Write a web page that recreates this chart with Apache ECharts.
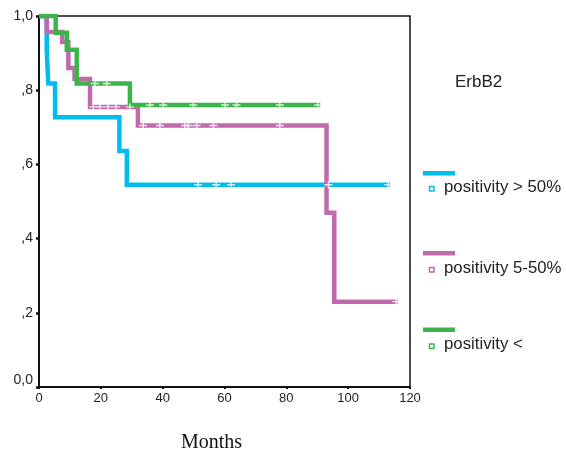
<!DOCTYPE html>
<html>
<head>
<meta charset="utf-8">
<script src="https://cdn.jsdelivr.net/npm/echarts@6/dist/echarts.min.js"></script>
<style>
html,body{margin:0;padding:0;background:#fff;}
#chart{width:566px;height:455px;}
</style>
</head>
<body>
<div id="chart"></div>
<script>
// ---- data ----
const legendTitle = 'ErbB2';
const xAxisTitle = 'Months';
const monthTicks = [0, 20, 40, 60, 80, 100, 120];
const survTicks = [0, 0.2, 0.4, 0.6, 0.8, 1.0];
const survTickLabels = ['0,0', ',2', ',4', ',6', ',8', '1,0'];
const groupNames = ['positivity > 50%', 'positivity 5-50%', 'positivity <'];
const groupColors = ['#00BDF0', '#C06AAC', '#3BB54A'];

// step survival curves (time at which survival becomes value)
const highTimes = [0, 2.5, 3, 5.2, 26, 28.4, 113.5];
const highSurv  = [1, 0.909, 0.818, 0.727, 0.636, 0.545, 0.545];
const midTimes  = [0, 2.5, 7.5, 9.5, 11.5, 16.5, 32, 93, 95.5, 116];
const midSurv   = [1, 0.957, 0.93, 0.86, 0.83, 0.755, 0.705, 0.47, 0.23, 0.23];
const lowTimes  = [0, 5.4, 9, 12.2, 29.4, 91];
const lowSurv   = [1, 0.955, 0.909, 0.818, 0.76, 0.76];

// censored observations
const highCensTimes = [51.5, 57.3, 62.1, 93.6, 113];
const highCensSurv  = [0.545, 0.545, 0.545, 0.545, 0.545];
const midCensTimes  = [17.6, 19.7, 22.3, 24.9, 29.4, 33.7, 39.1, 47.2, 48.3, 51, 56.4, 77.9, 115.5];
const midCensSurv   = [0.755, 0.755, 0.755, 0.755, 0.755, 0.705, 0.705, 0.705, 0.705, 0.705, 0.705, 0.705, 0.23];
const lowCensTimes  = [18.1, 21.9, 35.9, 40.2, 49.9, 60.2, 63.9, 77.9, 90.3];
const lowCensSurv   = [0.818, 0.818, 0.76, 0.76, 0.76, 0.76, 0.76, 0.76, 0.76];

// ---- build ----
const zip = (a, b) => a.map((v, i) => [v, b[i]]);
const curves = [zip(highTimes, highSurv), zip(midTimes, midSurv), zip(lowTimes, lowSurv)];
const cens = [zip(highCensTimes, highCensSurv), zip(midCensTimes, midCensSurv), zip(lowCensTimes, lowCensSurv)];
const plusSymbol = 'path://M0,2.8H8V4.2H0Z M3.3,0H4.7V7H3.3Z';

const series = [];
curves.forEach((d, i) => {
  series.push({
    name: groupNames[i], type: 'line', step: 'end', data: d,
    showSymbol: false, symbol: 'none', z: 2 + i,
    lineStyle: { color: groupColors[i], width: 4.5, cap: 'butt', join: 'miter' },
    silent: true, animation: false
  });
});
cens.forEach((d, i) => {
  series.push({
    name: groupNames[i] + ' censored', type: 'scatter', data: d,
    symbol: plusSymbol, symbolSize: [8, 7], z: 10,
    itemStyle: { color: '#ffffff' }, silent: true, animation: false
  });
});

const lblFmt = v => {
  const idx = survTicks.findIndex(t => Math.abs(t - v) < 1e-6);
  const s = idx >= 0 ? survTickLabels[idx] : '';
  return idx === 0 ? '{z|' + s + '}' : s;
};

const legendTops = [173, 253, 329.5];
const legendSq = [189, 270, 346.5];
const graphics = [{
  type: 'text', left: 455, top: 74,
  style: { text: legendTitle, font: '17px "Liberation Sans", Arial, sans-serif', fill: '#222' }
}, {
  type: 'text', left: 181, top: 433,
  style: { text: xAxisTitle, font: '20px "Liberation Serif", "Times New Roman", serif', fill: '#111' }
}];
groupNames.forEach((n, i) => {
  graphics.push({ type: 'rect', shape: { x: 423, y: legendTops[i] - 2, width: 32, height: 4.5 }, style: { fill: groupColors[i] } });
  graphics.push({ type: 'rect', shape: { x: 429.5, y: legendSq[i] - 2.5, width: 4.5, height: 4.5 }, style: { fill: '#fff', stroke: groupColors[i], lineWidth: 1.5 } });
  graphics.push({ type: 'text', left: 444, top: legendSq[i] - 10.5, style: { text: n, font: '16.8px "Liberation Sans", Arial, sans-serif', fill: '#222' } });
});

const chart = echarts.init(document.getElementById('chart'), null, { renderer: 'canvas' });
chart.setOption({
  animation: false,
  backgroundColor: '#fff',
  grid: { left: 39, top: 16, right: 156, bottom: 68, show: true, borderColor: '#111', borderWidth: 1.5, backgroundColor: 'transparent' },
  xAxis: {
    type: 'value', min: monthTicks[0], max: monthTicks[monthTicks.length - 1], interval: 20,
    axisLine: { show: true, onZero: false, lineStyle: { color: '#111', width: 2 } },
    axisTick: { show: true, length: 2, lineStyle: { color: '#111', width: 2 } },
    splitLine: { show: false },
    axisLabel: { color: '#222', fontSize: 13, fontFamily: '"Liberation Sans", Arial, sans-serif', margin: 5 }
  },
  yAxis: {
    type: 'value', min: 0, max: 1, interval: 0.2,
    axisLine: { show: true, onZero: false, lineStyle: { color: '#111', width: 2 } },
    axisTick: { show: true, length: 3, lineStyle: { color: '#111', width: 2.5 } },
    splitLine: { show: false },
    axisLabel: {
      color: '#222', fontSize: 14, fontFamily: '"Liberation Sans", Arial, sans-serif', margin: 6,
      formatter: lblFmt,
      rich: { z: { color: '#222', fontSize: 14, fontFamily: '"Liberation Sans", Arial, sans-serif', padding: [0, 0, 14, 0] } }
    }
  },
  graphic: graphics,
  series: series
});
</script>
</body>
</html>
